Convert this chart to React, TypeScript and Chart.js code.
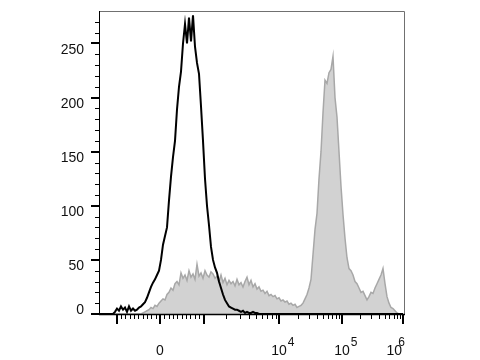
import React, { useEffect, useRef } from 'react';
import { Chart, registerables } from 'chart.js';

Chart.register(...registerables);

// Histogram counts in 2-channel bins along the biexponential display axis (channel 0..304)
const controlCounts = [
  0, 0, 0, 0, 0, 0, 0, 0,
  2, 5, 3, 7, 4, 6, 2, 7, 3, 5,
  3, 4, 6, 7, 9, 11, 15, 20, 25, 29,
  32, 36, 40, 50, 64, 72, 80, 105, 127, 145,
  160, 189, 210, 224, 250, 268, 250, 274, 252, 276,
  247, 232, 222, 192, 160, 125, 100, 82, 62, 50,
  43, 38, 30, 24, 18, 13, 10, 7, 6, 5,
  4, 4, 3, 2, 3, 1, 2, 1, 1, 2,
  1, 1,
  0, 0, 0, 0, 0, 0, 0, 0, 0, 0, 0, 0, 0, 0, 0, 0, 0, 0, 0, 0,
  0, 0, 0, 0, 0, 0, 0, 0, 0, 0, 0, 0, 0, 0, 0, 0, 0, 0, 0, 0,
  0, 0, 0, 0, 0, 0, 0, 0, 0, 0, 0, 0, 0, 0, 0, 0, 0, 0, 0, 0,
  0, 0, 0, 0, 0, 0, 0, 0, 0, 0, 0, 0, 0,
];

const stainedCounts = [
  0, 0, 0, 0, 0, 0, 0, 0, 0, 0, 0, 0, 0, 0, 0, 0, 0, 0, 0, 0, 0, 0,
  1, 2, 3, 4, 6, 5, 8, 7, 10, 12,
  14, 13, 18, 20, 24, 22, 28, 30, 27, 38,
  33, 36, 31, 40, 34, 37, 32, 46, 35, 38,
  33, 40, 36, 34, 39, 37, 33, 35, 30, 36,
  29, 33, 27, 31, 28, 30, 26, 32, 27, 29,
  25, 30, 34, 27, 31, 25, 28, 23, 25, 21,
  22, 19, 21, 17, 18, 16, 17, 14, 15, 12,
  13, 11, 12, 9, 10, 8, 9, 6, 7, 8,
  10, 14, 18, 24, 32, 55, 78, 93, 125, 150,
  186, 216, 213, 223, 226, 238, 200, 182, 150, 118,
  92, 70, 52, 42, 40, 36, 30, 28, 24, 20,
  21, 17, 13, 16, 20, 19, 24, 28, 32, 36,
  42, 28, 16, 10, 6, 5, 3, 1, 0, 0,
  0,
];

const BIN_WIDTH = 2;
const channels = stainedCounts.map((_, i) => i * BIN_WIDTH);

const X_MIN = 0;
const X_MAX = 305;
const Y_MIN = 0;
const Y_MAX = 280;

const yMajorTicks = [0, 50, 100, 150, 200, 250];
const yMinorTicks = [10, 20, 30, 40, 60, 70, 80, 90, 110, 120, 130, 140, 160, 170, 180, 190, 210, 220, 230, 240, 260, 270];

const xMajorTicks = [-1000, 0, 1000, 10000, 100000, 1000000];
const xMinorTicks = [
  -900, -800, -700, -600, -500, -400, -300, -200, -100,
  100, 200, 300, 400, 500, 600, 700, 800, 900,
  2000, 3000, 4000, 5000, 6000, 7000, 8000, 9000,
  20000, 30000, 40000, 50000, 60000, 70000, 80000, 90000,
  200000, 300000, 400000, 500000, 600000, 700000, 800000, 900000,
];
const xLabelValues = [0, 10000, 100000, 1000000];
const xLabelBases = ['0', '10', '10', '10'];
const xLabelExps = ['', '4', '5', '6'];

// Biexponential display transform: raw intensity -> display channel
const ZERO_CH = 61;
const LIN_CH_PER_1000 = 43.5;
const DECADE_KNOTS: [number, number][] = [[3, 104.5], [4, 180], [5, 243], [6, 304]];
function toChannel(v: number): number {
  if (Math.abs(v) <= 1000) return ZERO_CH + (LIN_CH_PER_1000 * v) / 1000;
  const s = Math.sign(v);
  const l = Math.log10(Math.abs(v));
  for (let i = 0; i < DECADE_KNOTS.length - 1; i++) {
    const [l0, c0] = DECADE_KNOTS[i];
    const [l1, c1] = DECADE_KNOTS[i + 1];
    if (l <= l1 || i === DECADE_KNOTS.length - 2) {
      const c = c0 + ((l - l0) / (l1 - l0)) * (c1 - c0);
      return s > 0 ? c : 2 * ZERO_CH - c;
    }
  }
  return ZERO_CH;
}

const FONT = '"Liberation Sans", Arial, sans-serif';

const axesPlugin = {
  id: 'flowAxes',
  afterDraw(chart: any) {
    const { ctx, chartArea: a, scales } = chart;
    const x = scales.x;
    const y = scales.y;
    ctx.save();

    // frame (top & right)
    ctx.strokeStyle = '#707070';
    ctx.lineWidth = 1;
    ctx.beginPath();
    ctx.moveTo(a.left, a.top + 0.5);
    ctx.lineTo(a.right + 0.5, a.top + 0.5);
    ctx.lineTo(a.right + 0.5, a.bottom);
    ctx.stroke();

    // y axis line
    ctx.strokeStyle = '#000';
    ctx.beginPath();
    ctx.moveTo(a.left + 0.5, a.top);
    ctx.lineTo(a.left + 0.5, a.bottom + 1);
    ctx.stroke();

    // x axis line
    ctx.lineWidth = 1.5;
    ctx.beginPath();
    ctx.moveTo(a.left, a.bottom + 0.5);
    ctx.lineTo(a.right + 1, a.bottom + 0.5);
    ctx.stroke();

    // y ticks
    ctx.lineWidth = 1;
    for (const v of yMinorTicks) {
      const py = Math.round(y.getPixelForValue(v)) + 0.5;
      ctx.beginPath();
      ctx.moveTo(a.left - 4, py);
      ctx.lineTo(a.left, py);
      ctx.stroke();
    }
    ctx.lineWidth = 2;
    for (const v of yMajorTicks) {
      const py = Math.round(y.getPixelForValue(v));
      ctx.beginPath();
      ctx.moveTo(a.left - 8, py);
      ctx.lineTo(a.left, py);
      ctx.stroke();
    }

    // x ticks
    ctx.lineWidth = 1;
    for (const v of xMinorTicks) {
      const px = Math.round(x.getPixelForValue(toChannel(v))) + 0.5;
      ctx.beginPath();
      ctx.moveTo(px, a.bottom);
      ctx.lineTo(px, a.bottom + 5);
      ctx.stroke();
    }
    ctx.lineWidth = 2;
    for (const v of xMajorTicks) {
      const px = Math.round(x.getPixelForValue(toChannel(v)));
      ctx.beginPath();
      ctx.moveTo(px, a.bottom);
      ctx.lineTo(px, a.bottom + 10);
      ctx.stroke();
    }

    // y labels
    ctx.fillStyle = '#111';
    ctx.font = '14px ' + FONT;
    ctx.textAlign = 'right';
    ctx.textBaseline = 'alphabetic';
    for (const v of yMajorTicks) {
      const py = y.getPixelForValue(v);
      const base = v === 0 ? py - 0.5 : py + 10.5;
      ctx.fillText(String(v), a.left - 15, base);
    }

    // x labels with superscript exponents
    ctx.textAlign = 'left';
    xLabelValues.forEach((v, i) => {
      const px = x.getPixelForValue(toChannel(v));
      const base = xLabelBases[i];
      const exp = xLabelExps[i];
      ctx.font = '14px ' + FONT;
      const bw = ctx.measureText(base).width;
      ctx.font = '12px ' + FONT;
      const ew = exp ? ctx.measureText(exp).width : 0;
      let bx = px - bw / 2;
      let ex = bx + bw + 1;
      if (exp && ex + ew > a.right + 2) {
        bx = a.right - 2 - bw;
        ex = a.right + 1 - ew;
      }
      ctx.font = '14px ' + FONT;
      ctx.fillText(base, bx, a.bottom + 41);
      if (exp) {
        ctx.font = '12px ' + FONT;
        ctx.fillText(exp, ex, a.bottom + 32);
      }
    });

    ctx.restore();
  },
};

export default function App() {
  const canvasRef = useRef<HTMLCanvasElement | null>(null);

  useEffect(() => {
    const canvas = canvasRef.current;
    if (!canvas) return;
    const chart = new Chart(canvas, {
      type: 'line',
      data: {
        datasets: [
          {
            label: 'Control',
            data: channels.map((c, i) => ({ x: c, y: controlCounts[i] })),
            borderColor: '#000000',
            borderWidth: 2,
            pointRadius: 0,
            fill: false,
            tension: 0,
          },
          {
            label: 'Stained',
            data: channels.map((c, i) => ({ x: c, y: stainedCounts[i] })),
            borderColor: '#a8a8a8',
            backgroundColor: '#d2d2d2',
            borderWidth: 1.5,
            pointRadius: 0,
            fill: 'origin',
            tension: 0,
          },
        ],
      },
      options: {
        responsive: false,
        animation: false,
        layout: { padding: { left: 99, right: 76, top: 11, bottom: 46 } },
        plugins: { legend: { display: false }, tooltip: { enabled: false } },
        scales: {
          x: { type: 'linear', min: X_MIN, max: X_MAX, display: false },
          y: { type: 'linear', min: Y_MIN, max: Y_MAX, display: false },
        },
      },
      plugins: [axesPlugin],
    } as any);
    return () => chart.destroy();
  }, []);

  return (
    <div style={{ position: 'fixed', left: 0, top: 0, width: 480, height: 360, background: '#fff' }}>
      <canvas ref={canvasRef} width={480} height={360} style={{ display: 'block' }} />
    </div>
  );
}
